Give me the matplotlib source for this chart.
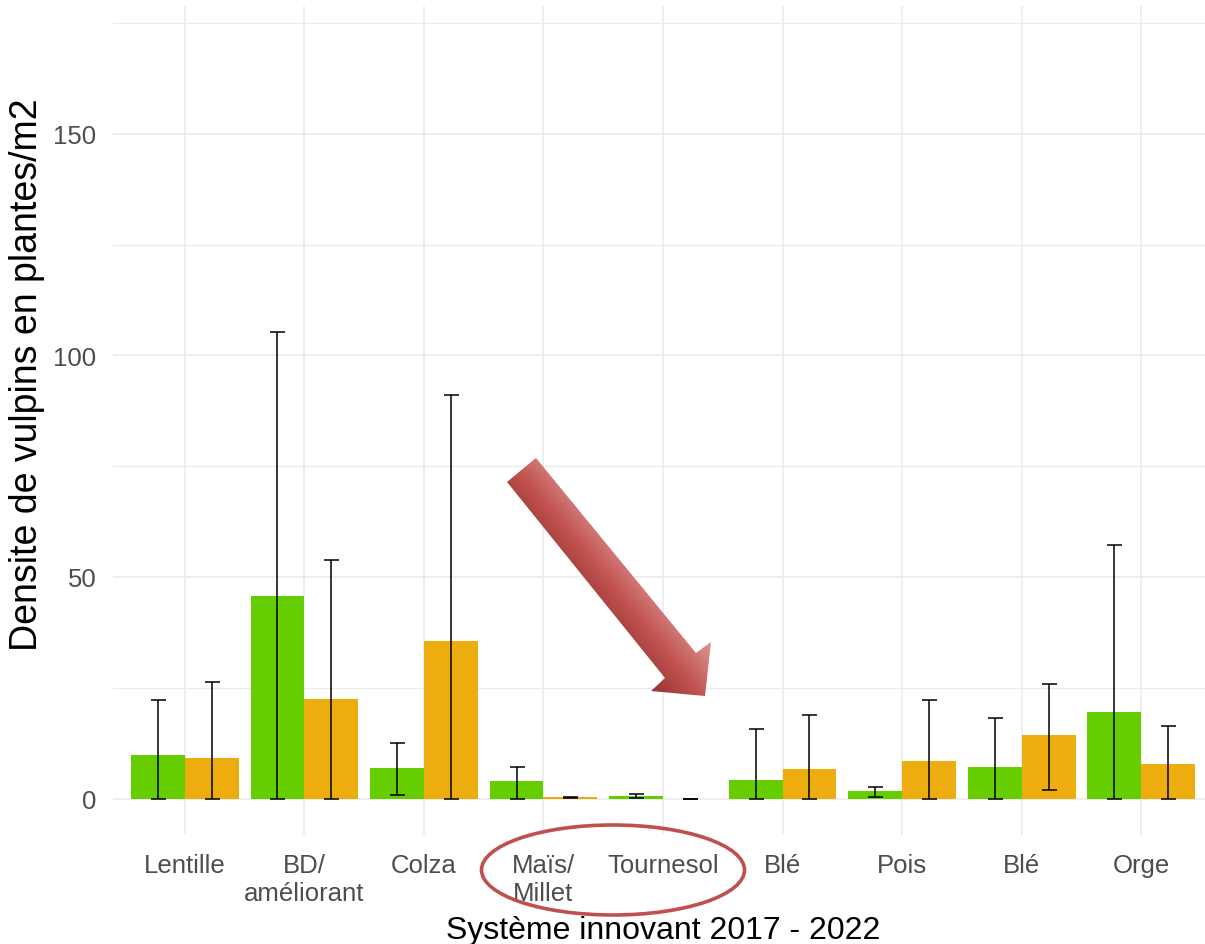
import numpy as np
import matplotlib
matplotlib.use("Agg")
import matplotlib.pyplot as plt
from matplotlib.patches import Polygon, Ellipse
from matplotlib.colors import LinearSegmentedColormap

plt.rcParams['font.family'] = ['Liberation Sans', 'DejaVu Sans']

# ---- data ----
categories = ["Lentille", "BD/\naméliorant", "Colza", "Maïs/\nMillet", "Tournesol",
              "Blé", "Pois", "Blé", "Orge"]
green_vals = [9.8, 45.8, 6.9, 3.9, 0.6, 4.3, 1.7, 7.2, 19.5]
green_lo = [0.0, 0.0, 0.8, 0.0, 0.05, 0.0, 0.45, 0.0, 0.0]
green_hi = [22.3, 105.3, 12.6, 7.2, 1.15, 15.6, 2.6, 18.2, 57.3]
orange_vals = [9.1, 22.4, 35.5, 0.3, 0.0, 6.8, 8.6, 14.3, 7.9]
orange_lo = [0.0, 0.0, 0.0, 0.15, 0.0, 0.0, 0.0, 1.9, 0.0]
orange_hi = [26.4, 53.9, 91.1, 0.45, 0.0, 18.9, 22.3, 25.9, 16.4]
y_ticks = [0, 50, 100, 150]
y_minor = [25, 75, 125, 175]

GREEN = "#66CD00"
ORANGE = "#EEAD0E"
GRID = "#EBEBEB"

W, H = 1205, 945
fig = plt.figure(figsize=(W / 100, H / 100), dpi=100)
left_px, right_px, top_px, bottom_px = 113, 1213, 7, 836
ax = fig.add_axes([left_px / W, (H - bottom_px) / H,
                   (right_px - left_px) / W, (bottom_px - top_px) / H])

x = np.arange(len(categories))
bw = 0.45
xg = x - bw / 2
xo = x + bw / 2
ax.bar(xg, green_vals, width=bw, color=GREEN, zorder=2)
ax.bar(xo, orange_vals, width=bw, color=ORANGE, zorder=2)

g = np.array(green_vals); o = np.array(orange_vals)
ax.errorbar(xg, g, yerr=[g - np.array(green_lo), np.array(green_hi) - g],
            fmt='none', ecolor='black', elinewidth=1.1, capsize=5.4, capthick=1.1, zorder=3)
ax.errorbar(xo, o, yerr=[o - np.array(orange_lo), np.array(orange_hi) - o],
            fmt='none', ecolor='black', elinewidth=1.1, capsize=5.4, capthick=1.1, zorder=3)

ax.set_xlim(-0.6, len(categories) - 1 + 0.6)
ax.set_ylim(-8.2, 178.8)
ax.set_yticks(y_ticks)
ax.set_yticks(y_minor, minor=True)
ax.set_xticks(x)
ax.set_xticklabels(categories)
ax.grid(True, which='major', color=GRID, lw=1.2, zorder=0)
ax.grid(True, which='minor', axis='y', color=GRID, lw=0.9, zorder=0)
ax.set_axisbelow(True)
for s in ax.spines.values():
    s.set_visible(False)
ax.tick_params(axis='both', which='both', length=0, labelsize=18.5, labelcolor='#4D4D4D')
ax.tick_params(axis='y', pad=12)
ax.tick_params(axis='x', pad=13)

ax.set_ylabel("Densite de vulpins en plantes/m2", fontsize=27, color='black')
ax.yaxis.set_label_coords(-0.062, 0.556)
ax.set_xlabel("Système innovant 2017 - 2022", fontsize=23, color='black')
ax.xaxis.set_label_coords(0.5, -0.097)

# ---- overlay annotations (arrow and ellipse) in pixel coords ----
ov = fig.add_axes([0, 0, 1, 1], facecolor='none', zorder=10)
ov.set_axis_off()

arrow_pts = np.array([(507, 483), (536, 459), (696, 654), (711, 643),
                      (705, 697), (651, 692), (665, 679)], dtype=float)
poly = Polygon(arrow_pts, closed=True, facecolor='none', edgecolor='none')
ov.add_patch(poly)

xmin, ymin = arrow_pts.min(axis=0) - 2
xmax, ymax = arrow_pts.max(axis=0) + 2
xx, yy = np.meshgrid(np.linspace(xmin, xmax, 300), np.linspace(ymin, ymax, 300))
d = np.array([184.0, 226.0]); d /= np.linalg.norm(d)
n = np.array([d[1], -d[0]])
cx, cy = 600, 575
t = (xx - cx) * n[0] + (yy - cy) * n[1]
t = np.clip(t / 40.0, -1, 1)
cmap = LinearSegmentedColormap.from_list("arr", ["#8A3232", "#C0504D", "#DA9090"])
im = ov.imshow(t, extent=(xmin, xmax, ymax, ymin), origin='upper', cmap=cmap,
               vmin=-1, vmax=1, aspect='auto', interpolation='bilinear')
im.set_clip_path(poly)

ov.add_patch(Ellipse((613, 871), 263, 90, fill=False, edgecolor='#C0504D', lw=2.6))

ov.set_xlim(0, W)
ov.set_ylim(H, 0)

fig.savefig("out.png", dpi=100)
